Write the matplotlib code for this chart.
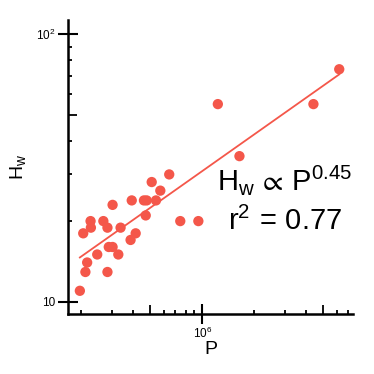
import numpy as np
import matplotlib
matplotlib.use("Agg")
import matplotlib.pyplot as plt
from matplotlib.ticker import FixedLocator, NullFormatter

# data
P = [1.96e5, 2.05e5, 2.11e5, 2.16e5, 2.26e5, 2.27e5, 2.47e5, 2.68e5, 2.83e5, 2.83e5,
     2.88e5, 3.03e5, 3.03e5, 3.27e5, 3.37e5, 3.85e5, 3.91e5, 4.12e5, 4.60e5, 4.71e5,
     4.77e5, 5.10e5, 5.40e5, 5.72e5, 6.44e5, 7.46e5, 9.49e5, 1.23e6, 1.64e6, 4.39e6,
     6.19e6]
Hw = [10.97, 18.0, 12.9, 14.0, 20.0, 18.9, 15.0, 20.0, 18.9, 12.9,
      16.0, 16.0, 23.0, 15.0, 18.9, 17.0, 23.9, 18.0, 23.9, 21.0,
      23.9, 28.0, 23.9, 26.0, 29.9, 20.0, 20.0, 54.8, 35.0, 54.8,
      74.0]

xticks = [1e6]
xticklabels = [r'$\mathregular{10^6}$']
yticks = [10, 100]
yticklabels = ['10', r'$\mathregular{10^2}$']
x_minor = [2e5, 3e5, 4e5, 6e5, 7e5, 8e5, 9e5, 2e6, 3e6, 4e6, 6e6, 7e6]
y_minor = [20, 30, 40, 60, 70, 80, 90]
x_mid = [5e5, 5e6]
y_mid = [50]

red = '#F4574A'

plt.rcParams['font.family'] = ['Liberation Sans', 'DejaVu Sans']
plt.rcParams['mathtext.fontset'] = 'custom'
plt.rcParams['mathtext.rm'] = 'Liberation Sans'
plt.rcParams['mathtext.it'] = 'Liberation Sans'

fig = plt.figure(figsize=(3.74, 3.74), dpi=100)
ax = fig.add_axes([0.181, 0.160, 0.763, 0.7865])

# power-law fit in log-log space
lp = np.log10(P)
lh = np.log10(Hw)
k, b = np.polyfit(lp, lh, 1)
xs = np.array([min(P), max(P)])
ax.plot(xs, 10 ** (b + k * np.log10(xs)), color=red, lw=1.3, zorder=2)
ax.scatter(P, Hw, s=55, color=red, edgecolors='none', zorder=3)

ax.set_xscale('log')
ax.set_yscale('log')
ax.set_xlim(1.667e5, 7.44e6)
ax.set_ylim(8.97, 113.1)

ax.set_xticks(xticks)
ax.set_xticklabels(xticklabels)
ax.set_yticks(yticks)
ax.set_yticklabels(yticklabels)
ax.xaxis.set_minor_locator(FixedLocator(x_minor))
ax.yaxis.set_minor_locator(FixedLocator(y_minor))
ax.xaxis.set_minor_formatter(NullFormatter())
ax.yaxis.set_minor_formatter(NullFormatter())
ax.tick_params(which='major', direction='inout', length=14.4, width=1.5, pad=1.5, labelsize=8.5)
ax.tick_params(which='minor', direction='in', length=3, width=1.3)

for s in ['top', 'right']:
    ax.spines[s].set_visible(False)
for s in ['left', 'bottom']:
    ax.spines[s].set_linewidth(1.8)

# medium ticks at the 5s
sx = ax.secondary_xaxis('bottom')
sx.set_xticks(x_mid)
sx.set_xticklabels(['' for _ in x_mid])
sx.xaxis.set_minor_locator(FixedLocator([]))
sx.tick_params(direction='in', length=6.3, width=1.3)
sx.spines['bottom'].set_visible(False)
sy = ax.secondary_yaxis('left')
sy.set_yticks(y_mid)
sy.set_yticklabels(['' for _ in y_mid])
sy.yaxis.set_minor_locator(FixedLocator([]))
sy.tick_params(direction='in', length=6.3, width=1.3)
sy.spines['left'].set_visible(False)

ax.set_xlabel('P', fontsize=14, labelpad=0)
ax.set_ylabel(r'$\mathregular{H_w}$', fontsize=14, labelpad=6)

ax.text(0.997, 0.422, r'$\mathregular{H_w\,\propto\,P^{0.45}}$', transform=ax.transAxes,
        fontsize=21, ha='right', va='baseline')
ax.text(0.962, 0.286, r'$\mathregular{r^2\,=\,0.77}$', transform=ax.transAxes,
        fontsize=21, ha='right', va='baseline')

fig.savefig('out.png', dpi=100)
